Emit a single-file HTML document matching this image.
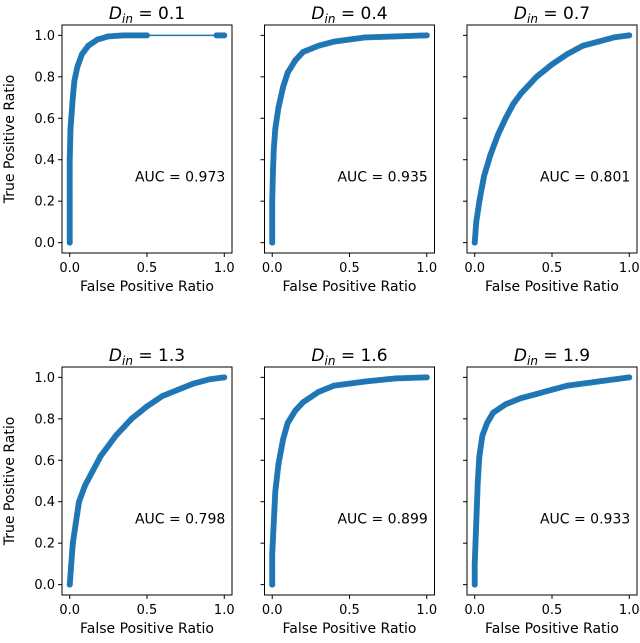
<!DOCTYPE html>
<html><head><meta charset="utf-8"><style>
body{margin:0;background:#fff;}
svg{display:block;font-family:"DejaVu Sans","Liberation Sans",sans-serif;}
</style></head><body>
<svg id="fig" width="640" height="643" viewBox="0 0 640 643"></svg>
<script>
const titles = ["0.1","0.4","0.7","1.3","1.6","1.9"];
const aucs = ["0.973","0.935","0.801","0.798","0.899","0.933"];
const xTicks = [0, 0.5, 1.0];
const xTickLabels = ["0.0","0.5","1.0"];
const yTicks = [0,0.2,0.4,0.6,0.8,1.0];
const yTickLabels = ["0.0","0.2","0.4","0.6","0.8","1.0"];
const fpr01 = [0,0,0,0,0.005,0.01,0.02,0.03,0.05,0.08,0.12,0.18,0.25,0.35,0.5,0.95,1];
const tpr01 = [0,0.1,0.2,0.4,0.55,0.6,0.7,0.78,0.85,0.91,0.95,0.98,0.995,1,1,1,1];
const fpr04 = [0,0,0.005,0.01,0.02,0.04,0.07,0.1,0.15,0.2,0.3,0.4,0.5,0.6,0.8,1];
const tpr04 = [0,0.2,0.35,0.45,0.55,0.65,0.75,0.82,0.88,0.92,0.95,0.97,0.98,0.99,0.995,1];
const fpr07 = [0,0.01,0.03,0.06,0.1,0.15,0.2,0.25,0.3,0.4,0.5,0.6,0.7,0.8,0.9,1];
const tpr07 = [0,0.1,0.2,0.32,0.42,0.52,0.6,0.67,0.72,0.8,0.86,0.91,0.95,0.97,0.99,1];
const fpr13 = [0,0.01,0.02,0.04,0.06,0.1,0.15,0.2,0.3,0.4,0.5,0.6,0.7,0.8,0.9,1];
const tpr13 = [0,0.1,0.2,0.3,0.4,0.48,0.55,0.62,0.72,0.8,0.86,0.91,0.94,0.97,0.99,1];
const fpr16 = [0,0,0.01,0.02,0.04,0.07,0.1,0.15,0.2,0.3,0.4,0.5,0.6,0.8,1];
const tpr16 = [0,0.15,0.3,0.45,0.58,0.7,0.78,0.84,0.88,0.93,0.96,0.97,0.98,0.995,1];
const fpr19 = [0,0,0.01,0.02,0.03,0.05,0.08,0.12,0.2,0.3,0.4,0.5,0.6,0.8,1];
const tpr19 = [0,0.1,0.3,0.5,0.62,0.72,0.78,0.83,0.87,0.9,0.92,0.94,0.96,0.98,1];
const fprs=[fpr01,fpr04,fpr07,fpr13,fpr16,fpr19];
const tprs=[tpr01,tpr04,tpr07,tpr13,tpr16,tpr19];

const NS="http://www.w3.org/2000/svg";
const svg=document.getElementById('fig');
function mk(t,a,p){const e=document.createElementNS(NS,t);for(const k in a)e.setAttribute(k,a[k]);(p||svg).appendChild(e);return e;}
const C="#1f77b4";
const W=170,H=228;
for(let i=0;i<6;i++){
  const col=i%3,row=Math.floor(i/3);
  const L=62+col*202.5, T=25+row*342;
  const sx=v=>L+(v+0.05)/1.1*W, sy=v=>T+H-(v+0.05)/1.1*H;
  const g=mk('g',{});
  
  
  const f=fprs[i],tp=tprs[i];
  let pts=f.map((v,k)=>sx(v)+','+sy(tp[k])).join(' ');
  const line=mk('polyline',{points:pts,fill:'none',stroke:C,'stroke-width':1.5},g);
  
  
  for(let k=0;k<f.length;k++){
    const x=sx(f[k]),y=sy(tp[k]);
    const m=mk('circle',{cx:x,cy:y,r:3,fill:C},g);
    
    
    if(k<f.length-1 && (f[k+1]-f[k])<0.3){
      const x2=sx(f[k+1]),y2=sy(tp[k+1]);
      const d=Math.hypot(x2-x,y2-y);
      const n=Math.ceil(d/1.5);
      for(let j=1;j<n;j++){mk('circle',{cx:x+(x2-x)*j/n,cy:y+(y2-y)*j/n,r:3,fill:C,'fill-opacity':0.85},g);}
    }
  }
  const fr=mk('rect',{x:L,y:T,width:W,height:H,fill:'none',stroke:'#000','stroke-width':1},g);
  
  
  xTicks.forEach((v,k)=>{
    mk('line',{x1:sx(v),x2:sx(v),y1:T+H,y2:T+H+4,stroke:'#000'},g);
    const t=mk('text',{x:sx(v),y:T+H+19,'font-size':13,'text-anchor':'middle'},g);
    t.textContent=xTickLabels[k];
    
    
  });
  yTicks.forEach((v,k)=>{
    mk('line',{x1:L-4,x2:L,y1:sy(v),y2:sy(v),stroke:'#000'},g);
    if(col===0){const t=mk('text',{x:L-7,y:sy(v)+4.5,'font-size':13,'text-anchor':'end'},g);
    t.textContent=yTickLabels[k];
    
    }
  });
  const xl=mk('text',{x:L+W/2,y:T+H+38,'font-size':14,'text-anchor':'middle'},g);
  xl.textContent='False Positive Ratio';
  
  
  if(col===0){const yl=mk('text',{x:0,y:0,'font-size':14,'text-anchor':'middle',transform:`translate(14,${T+H/2}) rotate(-90)`},g);
    yl.textContent='True Positive Ratio';
    
    }
  const a=mk('text',{x:sx(1.0)+1,y:sy(0.32)+5,'font-size':14,'text-anchor':'end'},g);
  a.textContent='AUC = '+aucs[i];
  
  
  const tt=mk('text',{x:L+W/2,y:T-6,'font-size':17,'text-anchor':'middle'},g);
  tt.innerHTML='<tspan font-style="italic">D</tspan><tspan font-style="italic" font-size="12" dy="4">in</tspan><tspan dy="-4"> = '+titles[i]+'</tspan>';
  
  
}
</script>
</body></html>
